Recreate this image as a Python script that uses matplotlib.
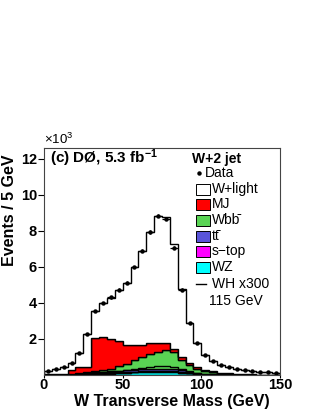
import numpy as np
import matplotlib
matplotlib.use('Agg')
import matplotlib.pyplot as plt
from matplotlib.patches import Rectangle
from matplotlib.lines import Line2D

plt.rcParams['font.family'] = ['Liberation Sans', 'DejaVu Sans']
plt.rcParams['mathtext.fontset'] = 'custom'
plt.rcParams['mathtext.rm'] = 'Liberation Sans'
plt.rcParams['mathtext.bf'] = 'Liberation Sans:bold'
plt.rcParams['mathtext.it'] = 'Liberation Sans:italic'

# W transverse mass, 5 GeV bins, events in units of 10^3
edges = np.arange(0, 155, 5)

# per-sample contributions (stacked bottom to top)
wz = [0.0, 0.0, 0.01, 0.01, 0.02, 0.03, 0.04, 0.06, 0.08, 0.10, 0.12, 0.14, 0.16, 0.18, 0.19,
      0.19, 0.18, 0.13, 0.09, 0.06, 0.04, 0.02, 0.01, 0.01, 0.0, 0.0, 0.0, 0.0, 0.0, 0.0]
stop = [0.0, 0.01, 0.01, 0.02, 0.02, 0.03, 0.03, 0.03, 0.04, 0.04, 0.04, 0.05, 0.05, 0.05, 0.05,
        0.05, 0.05, 0.04, 0.03, 0.02, 0.01, 0.01, 0.01, 0.0, 0.0, 0.0, 0.0, 0.0, 0.0, 0.0]
ttbar = [0.01, 0.01, 0.01, 0.02, 0.04, 0.05, 0.07, 0.08, 0.08, 0.09, 0.10, 0.10, 0.11, 0.11, 0.11,
         0.11, 0.09, 0.08, 0.06, 0.04, 0.03, 0.02, 0.01, 0.01, 0.01, 0.01, 0.01, 0.0, 0.0, 0.0]
wbb = [0.01, 0.01, 0.02, 0.03, 0.04, 0.06, 0.08, 0.11, 0.16, 0.25, 0.36, 0.53, 0.70, 0.84, 0.95,
       1.03, 0.96, 0.60, 0.37, 0.23, 0.14, 0.09, 0.06, 0.04, 0.03, 0.02, 0.01, 0.01, 0.01, 0.0]
mj = [0.01, 0.02, 0.03, 0.22, 0.31, 0.28, 1.84, 1.82, 1.66, 1.42, 1.06, 0.86, 0.66, 0.59, 0.49,
      0.41, 0.17, 0.15, 0.13, 0.10, 0.08, 0.06, 0.04, 0.03, 0.02, 0.01, 0.01, 0.01, 0.0, 0.01]
wlight = [0.19, 0.26, 0.35, 0.39, 0.77, 1.85, 1.51, 1.90, 2.28, 2.82, 3.45, 4.32, 5.22, 6.18, 7.06,
          6.96, 5.80, 3.77, 2.19, 1.35, 0.82, 0.57, 0.42, 0.34, 0.27, 0.22, 0.18, 0.15, 0.13, 0.11]
wh300 = [0.0, 0.0, 0.0, 0.01, 0.03, 0.06, 0.10, 0.14, 0.19, 0.24, 0.29, 0.34, 0.39, 0.44, 0.48,
         0.50, 0.46, 0.33, 0.20, 0.12, 0.07, 0.04, 0.02, 0.01, 0.01, 0.0, 0.0, 0.0, 0.0, 0.0]
data = [0.22, 0.31, 0.43, 0.69, 1.21, 2.29, 3.57, 3.99, 4.31, 4.74, 5.12, 6.00, 6.91, 7.94, 8.84,
        8.67, 7.07, 4.74, 2.86, 1.80, 1.12, 0.77, 0.55, 0.43, 0.33, 0.26, 0.21, 0.17, 0.14, 0.12]

samples = [("WZ", wz, "#00ffff"), ("s\u2212top", stop, "#ff00ff"),
           ("tt\u0304", ttbar, "#5954d9"), ("Wbb\u0304", wbb, "#59d454"),
           ("MJ", mj, "#ff0000"), ("W+light", wlight, "white")]

fig = plt.figure(figsize=(3.19, 4.12), dpi=100)
ax = fig.add_axes([44 / 319, 37 / 412, 236 / 319, 227 / 412])

bottom = np.zeros(len(edges) - 1)
for name, vals, col in samples:
    vals = np.array(vals)
    ax.stairs(bottom + vals, edges, baseline=bottom, fill=True,
              facecolor=col, edgecolor='black', lw=1.0)
    bottom = bottom + vals

ax.stairs(wh300, edges, color='black', lw=1.0)

centers = 0.5 * (edges[1:] + edges[:-1])
data = np.array(data)
ax.errorbar(centers, data, xerr=2.5, yerr=np.sqrt(data * 1000) / 1000,
            fmt='o', color='black', ms=2.2, elinewidth=0.9, capsize=0)

ax.set_xlim(0, 150)
ax.set_ylim(0, 12.6)
ax.set_xticks([0, 50, 100, 150])
ax.set_yticks([2, 4, 6, 8, 10, 12])
for lab in ax.get_xticklabels() + ax.get_yticklabels():
    lab.set_fontweight('bold')
ax.tick_params(axis='both', labelsize=10.5, direction='out', length=4, width=0.8)
ax.tick_params(axis='x', pad=0.5, length=2)
ax.tick_params(axis='y', pad=1.0)
for sp in ax.spines.values():
    sp.set_linewidth(0.8)
    sp.set_color('#444444')

ax.set_xlabel("W Transverse Mass (GeV)", fontsize=11.5, fontweight='bold')
ax.xaxis.set_label_coords(0.955, -0.118)
ax.xaxis.label.set_ha('right')
ax.xaxis.label.set_va('center')
ax.set_ylabel("Events / 5 GeV", fontsize=11.5, fontweight='bold')
ax.yaxis.set_label_coords(-0.145, 0.97)
ax.yaxis.label.set_va('center')
ax.yaxis.label.set_ha('right')

ax.text(0.0, 1.005, "\u00d710$^{3}$", transform=ax.transAxes, fontsize=9.5,
        ha='left', va='bottom')
ax.text(0.025, 0.955, "(c) D\u00d8, 5.3 fb$^{\\mathbf{-1}}$", transform=ax.transAxes,
        fontsize=11, fontweight='bold', ha='left', va='center')


# legend, positioned in pixel terms of the axes box
def fx(px):
    return (px - 44) / 236


def fy(py):
    return (375 - py) / 227


ax.text(fx(192), fy(159), "W+2 jet", transform=ax.transAxes, fontsize=10,
        fontweight='bold', ha='left', va='center')
ax.plot([fx(199)], [fy(173)], 'o', color='black', ms=2.2, transform=ax.transAxes)
ax.text(fx(205), fy(173), "Data", transform=ax.transAxes, fontsize=10,
        ha='left', va='center')
ypos = [189, 204, 220, 236, 251, 267]
for (name, vals, col), py in zip(samples[::-1], ypos):
    ax.add_patch(Rectangle((fx(196), fy(py + 5.5)), 14 / 236, 11 / 227,
                           transform=ax.transAxes, facecolor=col,
                           edgecolor='black', lw=0.7, clip_on=False))
    ax.text(fx(212), fy(py), name, transform=ax.transAxes, fontsize=10,
            ha='left', va='center')
ax.add_line(Line2D([fx(196), fx(206)], [fy(284), fy(284)], color='black', lw=1.0,
                   transform=ax.transAxes))
ax.text(fx(212), fy(284), "WH x300", transform=ax.transAxes, fontsize=10,
        ha='left', va='center')
ax.text(fx(209), fy(301), "115 GeV", transform=ax.transAxes, fontsize=10,
        ha='left', va='center')

fig.savefig("out.png", dpi=100, facecolor='white')
